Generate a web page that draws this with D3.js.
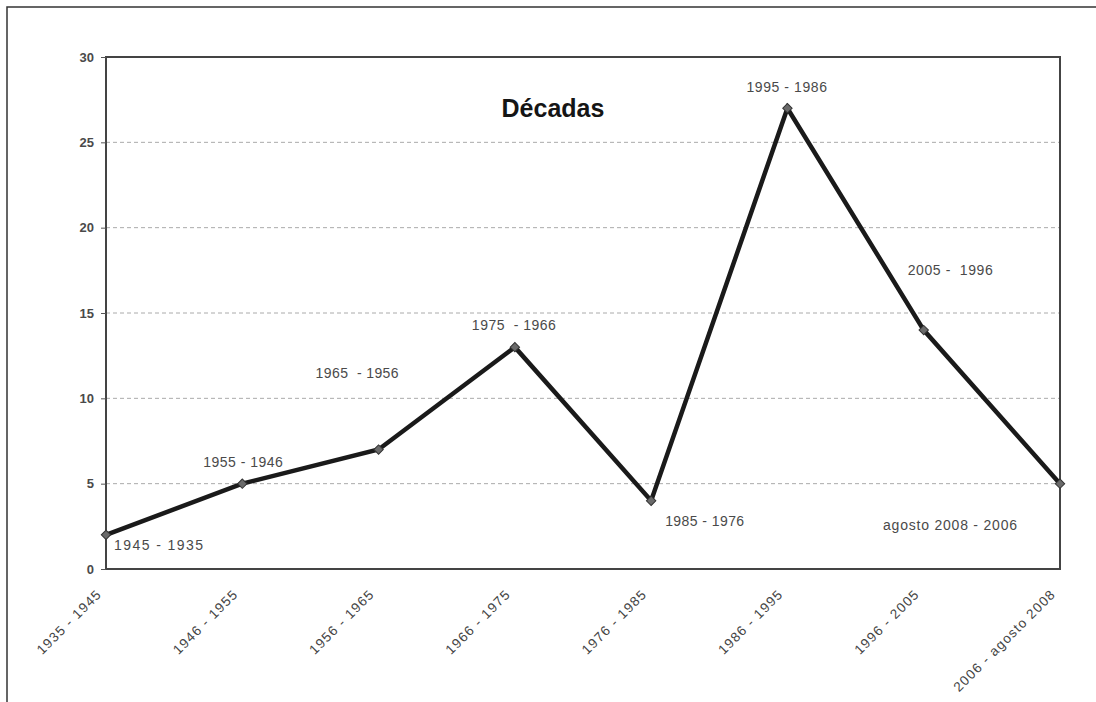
<!DOCTYPE html>
<html><head><meta charset="utf-8">
<script src="https://cdn.jsdelivr.net/npm/d3@7"></script>
<style>
html,body{margin:0;padding:0;background:#fff;}
svg{display:block;font-family:"Liberation Sans",Arial,sans-serif;}
</style></head>
<body>
<svg id="chart" width="1096" height="702"></svg>
<script>
// ---- data ----
const categories = ["1935 - 1945","1946 - 1955","1956 - 1965","1966 - 1975","1976 - 1985","1986 - 1995","1996 - 2005","2006 - agosto 2008"];
const values = [2,5,7,13,4,27,14,5];
const pointLabels = ["1945 - 1935","1955 - 1946","1965  - 1956","1975  - 1966","1985 - 1976","1995 - 1986","2005 -  1996","agosto 2008 - 2006"];
const yTicks = [0,5,10,15,20,25,30];
const title = "Décadas";

// ---- layout (not data) ----
const labelOffsets = [[8,15,89],[-39,-17,79.5],[-63,-71.5,83],[-43,-17,84],[14,25,79],[-41,-16.6,80.5],[-16,-55,85],[-177,46,134]];

const svg = d3.select("#chart");
const L = 106, R = 1060, T = 57, B = 569;

// outer frame
svg.append("rect").attr("x",7).attr("y",7).attr("width",1200).attr("height",900)
  .attr("fill","none").attr("stroke","#333").attr("stroke-width",1.5);

const x = d3.scalePoint().domain(categories).range([L,R]);
const y = d3.scaleLinear().domain([0,30]).range([B,T]);

// gridlines
svg.append("g").selectAll("line").data(yTicks.filter(t=>t>0 && t<30)).join("line")
  .attr("x1",L).attr("x2",R).attr("y1",d=>y(d)).attr("y2",d=>y(d))
  .attr("stroke","#aaa").attr("stroke-width",1).attr("stroke-dasharray","4,3");

// plot frame
svg.append("rect").attr("x",L).attr("y",T).attr("width",R-L).attr("height",B-T)
  .attr("fill","none").attr("stroke","#444").attr("stroke-width",2);

// y axis
const yAxis = d3.axisLeft(y).tickValues(yTicks).tickSize(5).tickPadding(7);
const gy = svg.append("g").attr("transform",`translate(${L},0)`).call(yAxis);
gy.select(".domain").remove();
gy.selectAll(".tick line").attr("stroke","#555");
gy.selectAll(".tick text").attr("font-size",13).attr("font-weight","bold").attr("fill","#4a4a4a")
  .attr("font-family","Liberation Sans, Arial, sans-serif");

// x axis labels
const xAxis = d3.axisBottom(x).tickSize(0).tickPadding(0);
const gx = svg.append("g").attr("transform",`translate(0,${B})`).call(xAxis);
gx.select(".domain").remove();
gx.selectAll(".tick text")
  .attr("font-size",13.5).attr("fill","#444").attr("font-family","Liberation Sans, Arial, sans-serif")
  .attr("text-anchor","end").attr("dy",0).attr("y",0)
  .attr("letter-spacing","1.2px")
  .attr("transform","translate(-4,26) rotate(-45)");

// line
const line = d3.line().x((d,i)=>x(categories[i])).y(d=>y(d));
svg.append("path").datum(values).attr("d",line)
  .attr("fill","none").attr("stroke","#1a1a1a").attr("stroke-width",4.5).attr("stroke-linejoin","miter");

// markers (square diamonds)
const sym = d3.symbol().type(d3.symbolSquare).size(44);
svg.append("g").selectAll("path").data(values).join("path")
  .attr("d",sym)
  .attr("transform",(d,i)=>`translate(${x(categories[i])},${y(d)}) rotate(45)`)
  .attr("fill","#6a6a6a").attr("stroke","#333").attr("stroke-width",1);

// point labels
svg.append("g").selectAll("text").data(pointLabels).join("text")
  .attr("x",(d,i)=>x(categories[i])+labelOffsets[i][0])
  .attr("y",(d,i)=>y(values[i])+labelOffsets[i][1])
  .attr("textLength",(d,i)=>labelOffsets[i][2])
  .attr("lengthAdjust","spacing")
  .style("white-space","pre")
  .attr("font-size",14).attr("fill","#4a4a4a")
  .text(d=>d);

// title
svg.append("text").attr("x",553).attr("y",117).attr("text-anchor","middle")
  .attr("font-size",25).attr("font-weight","bold").attr("fill","#151515").text(title);
</script>
</body></html>
